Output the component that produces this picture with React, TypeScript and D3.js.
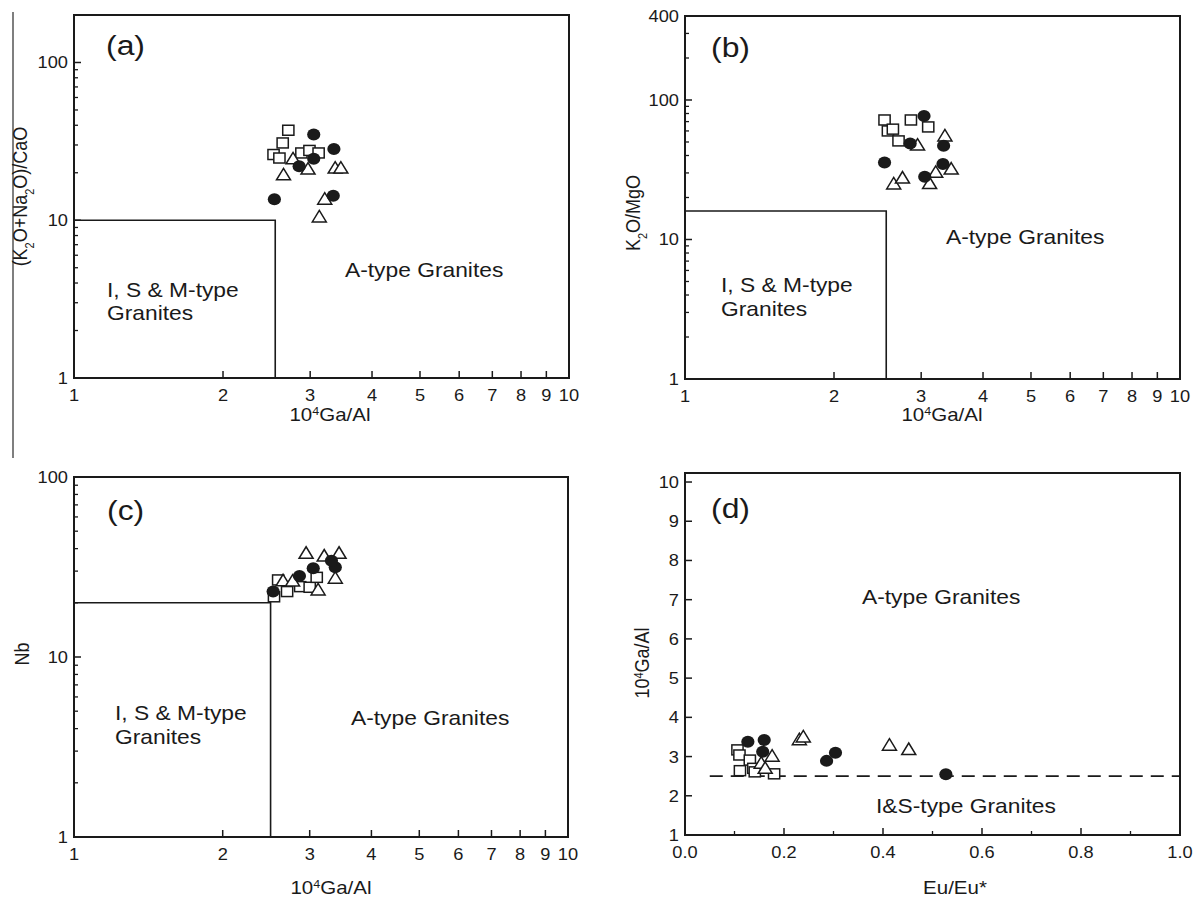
import React from "react";
import * as d3 from "d3";

const FONT = "'Liberation Sans', Arial, Helvetica, sans-serif";
const INK = "#1a1a1a";
// the source figure is a little wider than tall, so glyphs are stretched sideways
const SX = 1.14;

// ---- data (x, y) ----
// panel (a): 10^4Ga/Al vs (K2O+Na2O)/CaO
const aSquare = [[2.71, 37.2], [2.64, 30.9], [2.53, 26.1], [2.6, 24.8], [2.88, 26.7], [2.99, 27.7], [3.12, 26.7]];
const aCircle = [[3.05, 34.9], [3.35, 28.3], [2.85, 22.0], [3.05, 24.5], [2.54, 13.6], [3.34, 14.3]];
const aTriangle = [[2.77, 24.5], [2.65, 19.4], [2.97, 21.1], [3.37, 21.4], [3.46, 21.4], [3.21, 13.6], [3.13, 10.5]];

// panel (b): 10^4Ga/Al vs K2O/MgO
const bSquare = [[2.53, 71.9], [2.57, 60.0], [2.63, 61.8], [2.7, 50.9], [2.86, 71.9], [3.1, 64.1]];
const bCircle = [[3.04, 76.9], [2.85, 48.7], [2.53, 35.7], [3.33, 46.9], [3.32, 34.7], [3.05, 28.2]];
const bTriangle = [[2.95, 47.5], [3.35, 55.3], [2.64, 25.0], [2.75, 27.6], [3.12, 25.2], [3.21, 30.3], [3.45, 32.0]];

// panel (c): 10^4Ga/Al vs Nb
const cSquare = [[2.59, 26.8], [2.7, 23.1], [2.87, 24.6], [3.0, 24.4], [3.1, 27.7], [2.54, 21.6]];
const cCircle = [[2.53, 23.1], [2.86, 28.2], [3.05, 31.1], [3.38, 31.5], [3.32, 34.3]];
const cTriangle = [[2.95, 37.7], [3.21, 36.4], [3.44, 37.7], [2.65, 26.5], [2.77, 26.4], [3.38, 27.4], [3.12, 23.6]];

// panel (d): Eu/Eu* vs 10^4Ga/Al
const dSquare = [[0.106, 3.17], [0.11, 3.04], [0.131, 2.91], [0.111, 2.64], [0.138, 2.7], [0.141, 2.61], [0.18, 2.56]];
const dCircle = [[0.127, 3.38], [0.16, 3.42], [0.157, 3.12], [0.286, 2.89], [0.304, 3.1], [0.527, 2.55]];
const dTriangle = [[0.154, 2.83], [0.176, 3.01], [0.162, 2.7], [0.231, 3.43], [0.239, 3.5], [0.413, 3.29], [0.452, 3.18]];

// discrimination boundaries
const aBoundary = [[1, 10], [2.55, 10], [2.55, 1]];
const bBoundary = [[1, 16], [2.55, 16], [2.55, 1]];
const cBoundary = [[1, 20], [2.5, 20], [2.5, 1]];
const dBoundary = [[0.05, 2.5], [1.0, 2.5]];

// ticks
const gaAlTicks = [1, 2, 3, 4, 5, 6, 7, 8, 9, 10];
const logMajor = [1, 10, 100];
const bLogLabels = [1, 10, 100, 400];
const dXTicks = [0, 0.2, 0.4, 0.6, 0.8, 1.0];
const dXMinor = [0.1, 0.3, 0.5, 0.7, 0.9];
const dYTicks = [1, 2, 3, 4, 5, 6, 7, 8, 9, 10];

const logMinors = (max) => {
  const out = [];
  for (let d = 1; d < max; d *= 10) {
    for (let k = 2; k <= 9; k++) if (d * k < max) out.push(d * k);
  }
  return out;
};

const T = ({ x, y, size, anchor = "start", rotate = false, children }) => (
  <text
    transform={`translate(${x},${y}) scale(${SX},1)${rotate ? " rotate(-90)" : ""}`}
    fontSize={size}
    textAnchor={anchor}
  >
    {children}
  </text>
);

const Ga = () => (
  <>
    10<tspan baselineShift="super" fontSize="11">4</tspan>Ga/Al
  </>
);

const Markers = ({ x, y, squares, circles, triangles }) => (
  <g>
    {squares.map((d, i) => (
      <rect key={"s" + i} x={x(d[0]) - 5.6} y={y(d[1]) - 5} width={11.2} height={10}
        fill="#fff" stroke={INK} strokeWidth={1.5} />
    ))}
    {triangles.map((d, i) => {
      const cx = x(d[0]), cy = y(d[1]);
      return (
        <path key={"t" + i} d={`M${cx},${cy - 6.5}L${cx + 7},${cy + 5}L${cx - 7},${cy + 5}Z`}
          fill="#fff" stroke={INK} strokeWidth={1.5} />
      );
    })}
    {circles.map((d, i) => (
      <ellipse key={"c" + i} cx={x(d[0])} cy={y(d[1])} rx={6.6} ry={6} fill={INK} />
    ))}
  </g>
);

const Panel = ({ box, x, y, xTicks, xMinor = [], yTicks, yMinor, xFmt, yFmt, children }) => {
  const { left, right, top, bottom } = box;
  return (
    <g fontFamily={FONT} fill={INK}>
      {xTicks.map((t) => (
        <g key={"xt" + t}>
          <line x1={x(t)} x2={x(t)} y1={bottom} y2={bottom - 7} stroke={INK} strokeWidth={1.5} />
          <T x={x(t)} y={bottom + 23} anchor="middle" size={16}>{xFmt(t)}</T>
        </g>
      ))}
      {xMinor.map((t) => (
        <line key={"xm" + t} x1={x(t)} x2={x(t)} y1={bottom} y2={bottom - 4} stroke={INK} strokeWidth={1.3} />
      ))}
      {yTicks.map((t) => (
        <g key={"yt" + t}>
          <line x1={left} x2={left + 7} y1={y(t)} y2={y(t)} stroke={INK} strokeWidth={1.5} />
          <T x={left - 6} y={y(t) + 6} anchor="end" size={16}>{yFmt(t)}</T>
        </g>
      ))}
      {yMinor.map((t) => (
        <line key={"ym" + t} x1={left} x2={left + 4} y1={y(t)} y2={y(t)} stroke={INK} strokeWidth={1.3} />
      ))}
      {children}
      <rect x={left} y={top} width={right - left} height={bottom - top} fill="none" stroke={INK} strokeWidth={2} />
    </g>
  );
};

export default function App() {
  const line = d3.line();

  // (a)
  const aBox = { left: 74, right: 569, top: 15, bottom: 378 };
  const ax = d3.scaleLog().domain([1, 10]).range([aBox.left, aBox.right]);
  const ay = d3.scaleLog().domain([1, 200]).range([aBox.bottom, aBox.top]);
  // (b)
  const bBox = { left: 685, right: 1180, top: 16, bottom: 379 };
  const bx = d3.scaleLog().domain([1, 10]).range([bBox.left, bBox.right]);
  const by = d3.scaleLog().domain([1, 400]).range([bBox.bottom, bBox.top]);
  // (c)
  const cBox = { left: 74, right: 568, top: 477, bottom: 837 };
  const cx = d3.scaleLog().domain([1, 10]).range([cBox.left, cBox.right]);
  const cy = d3.scaleLog().domain([1, 100]).range([cBox.bottom, cBox.top]);
  // (d)
  const dBox = { left: 685, right: 1180, top: 473, bottom: 835 };
  const dx = d3.scaleLinear().domain([0, 1]).range([dBox.left, dBox.right]);
  const dy = d3.scaleLinear().domain([1, 10.23]).range([dBox.bottom, dBox.top]);

  const intFmt = (t) => String(t);
  const decFmt = d3.format(".1f");
  const RF = 20; // region text
  const PF = 28; // panel letter
  const AF = 18; // axis title

  return (
    <svg width={1195} height={902} style={{ position: "absolute", left: 0, top: 0, background: "#fff" }}>
      <rect width={1195} height={902} fill="#fff" />
      <line x1={13} x2={13} y1={12} y2={458} stroke="#555" strokeWidth={1.5} />

      {/* (a) */}
      <Panel box={aBox} x={ax} y={ay} xTicks={gaAlTicks} yTicks={logMajor} yMinor={logMinors(200)}
        xFmt={intFmt} yFmt={intFmt}>
        <path d={line(aBoundary.map((d) => [ax(d[0]), ay(d[1])]))} fill="none" stroke={INK} strokeWidth={1.6} />
        <Markers x={ax} y={ay} squares={aSquare} circles={aCircle} triangles={aTriangle} />
        <T x={106} y={55} size={PF}>(a)</T>
        <T x={107} y={297} size={RF}>I, S &amp; M-type</T>
        <T x={107} y={320} size={RF}>Granites</T>
        <T x={345} y={277} size={RF}>A-type Granites</T>
        <T x={330} y={421} anchor="middle" size={AF}><Ga /></T>
        <T x={27} y={(aBox.top + aBox.bottom) / 2} anchor="middle" size={AF} rotate>
          (K<tspan baselineShift="sub" fontSize="11">2</tspan>O+Na<tspan baselineShift="sub" fontSize="11">2</tspan>O)/CaO
        </T>
      </Panel>

      {/* (b) */}
      <Panel box={bBox} x={bx} y={by} xTicks={gaAlTicks} yTicks={bLogLabels} yMinor={logMinors(400)}
        xFmt={intFmt} yFmt={intFmt}>
        <path d={line(bBoundary.map((d) => [bx(d[0]), by(d[1])]))} fill="none" stroke={INK} strokeWidth={1.6} />
        <Markers x={bx} y={by} squares={bSquare} circles={bCircle} triangles={bTriangle} />
        <T x={711} y={57} size={PF}>(b)</T>
        <T x={721} y={292} size={RF}>I, S &amp; M-type</T>
        <T x={721} y={316} size={RF}>Granites</T>
        <T x={946} y={244} size={RF}>A-type Granites</T>
        <T x={942} y={421} anchor="middle" size={AF}><Ga /></T>
        <T x={640} y={213} anchor="middle" size={AF} rotate>
          K<tspan baselineShift="sub" fontSize="11">2</tspan>O/MgO
        </T>
      </Panel>

      {/* (c) */}
      <Panel box={cBox} x={cx} y={cy} xTicks={gaAlTicks} yTicks={logMajor} yMinor={logMinors(100)}
        xFmt={intFmt} yFmt={intFmt}>
        <path d={line(cBoundary.map((d) => [cx(d[0]), cy(d[1])]))} fill="none" stroke={INK} strokeWidth={1.6} />
        <Markers x={cx} y={cy} squares={cSquare} circles={cCircle} triangles={cTriangle} />
        <T x={107} y={520} size={PF}>(c)</T>
        <T x={115} y={720} size={RF}>I, S &amp; M-type</T>
        <T x={115} y={744} size={RF}>Granites</T>
        <T x={351} y={725} size={RF}>A-type Granites</T>
        <T x={331} y={894} anchor="middle" size={AF}><Ga /></T>
        <T x={29} y={654} anchor="middle" size={AF} rotate>Nb</T>
      </Panel>

      {/* (d) */}
      <Panel box={dBox} x={dx} y={dy} xTicks={dXTicks} xMinor={dXMinor} yTicks={dYTicks} yMinor={[]}
        xFmt={decFmt} yFmt={intFmt}>
        <path d={line(dBoundary.map((d) => [dx(d[0]), dy(d[1])]))} fill="none" stroke={INK} strokeWidth={1.6}
          strokeDasharray="13,8" />
        <Markers x={dx} y={dy} squares={dSquare} circles={dCircle} triangles={dTriangle} />
        <T x={711} y={518} size={PF}>(d)</T>
        <T x={862} y={604} size={RF}>A-type Granites</T>
        <T x={876} y={813} size={RF}>I&amp;S-type Granites</T>
        <T x={955} y={894} anchor="middle" size={AF}>Eu/Eu*</T>
        <T x={649} y={663} anchor="middle" size={AF} rotate><Ga /></T>
      </Panel>
    </svg>
  );
}
